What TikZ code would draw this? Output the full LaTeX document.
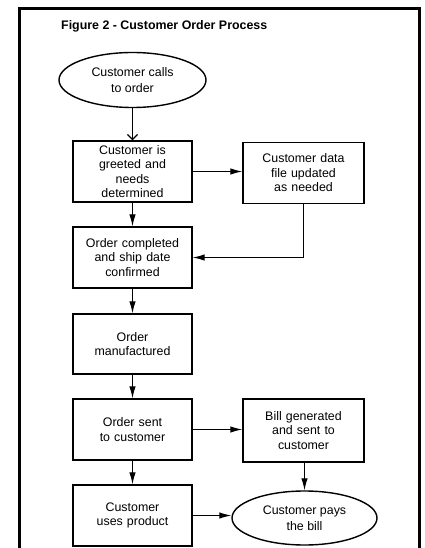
\documentclass[tikz,border=0pt]{standalone}
\usepackage{fontspec}
\setmainfont{Liberation Sans}
\usetikzlibrary{arrows.meta,shapes.geometric}

\tikzset{
  stepbox/.style={draw, line width=1.3pt, minimum width=119pt, minimum height=61pt,
    text width=112pt, align=center, inner sep=0pt,
    font=\fontsize{12.4pt}{14.5pt}\selectfont},
  terminal/.style={draw, ellipse, line width=1.4pt, inner sep=0pt,
    align=center, font=\fontsize{12.4pt}{16pt}\selectfont},
  flow/.style={line width=1.1pt, -{Latex[length=12pt,width=6.5pt]}},
  openflow/.style={line width=1.3pt, -{Straight Barb[length=5pt,width=10pt]}}
}

\begin{document}
\begin{tikzpicture}[x=1pt,y=-1pt]
  \useasboundingbox (0,0) rectangle (424,548);
  \clip (0,0) rectangle (424,548);

  % outer frame (open at the foot of the page)
  \draw[line width=3pt] (19,560) -- (19,9) -- (419,9) -- (419,560);

  % heading
  \node[anchor=base west, inner sep=0pt, font=\bfseries\fontsize{12.4pt}{14pt}\selectfont]
    (title) at (61,30) {Figure 2 - Customer Order Process};

  % process steps
  \node[terminal, minimum width=147pt, minimum height=55pt] (call) at (132.5,80)
    {Customer calls\\to order};
  \node[stepbox] (greet) at (132.5,171.5)
    {Customer is\\greeted and\\needs\\determined};
  \node[stepbox, minimum width=121pt] (data) at (303.5,173)
    {Customer data\\file updated\\as needed};
  \node[stepbox] (complete) at (132.5,257.5)
    {Order completed\\and ship date\\confirmed};
  \node[stepbox, minimum height=60pt] (made) at (132.5,344)
    {Order\\manufactured};
  \node[stepbox] (sent) at (132.5,429.5)
    {Order sent\\to customer};
  \node[stepbox, minimum width=121pt, minimum height=63pt] (bill) at (303.5,430.5)
    {Bill generated\\and sent to\\customer};
  \node[stepbox] (use) at (132.5,515.5)
    {Customer\\uses product};
  \node[terminal, minimum width=145pt, minimum height=54pt] (pay) at (304.5,518)
    {Customer pays\\the bill};

  % connectors
  \draw[openflow] (call.south) -- (greet.north);
  \draw[flow] (greet.east) -- (greet.east -| data.west);
  \draw[flow] (greet.south) -- (complete.north);
  \draw[flow] (data.south) |- (complete.east);
  \draw[flow] (complete.south) -- (made.north);
  \draw[flow] (made.south) -- (sent.north);
  \draw[flow] (sent.east) -- (sent.east -| bill.west);
  \draw[flow] (sent.south) -- (use.north);
  \draw[flow] (bill.south -| pay.north) -- (pay.north);
  \draw[flow] (use.east) -- (use.east -| pay.west);
\end{tikzpicture}
\end{document}
